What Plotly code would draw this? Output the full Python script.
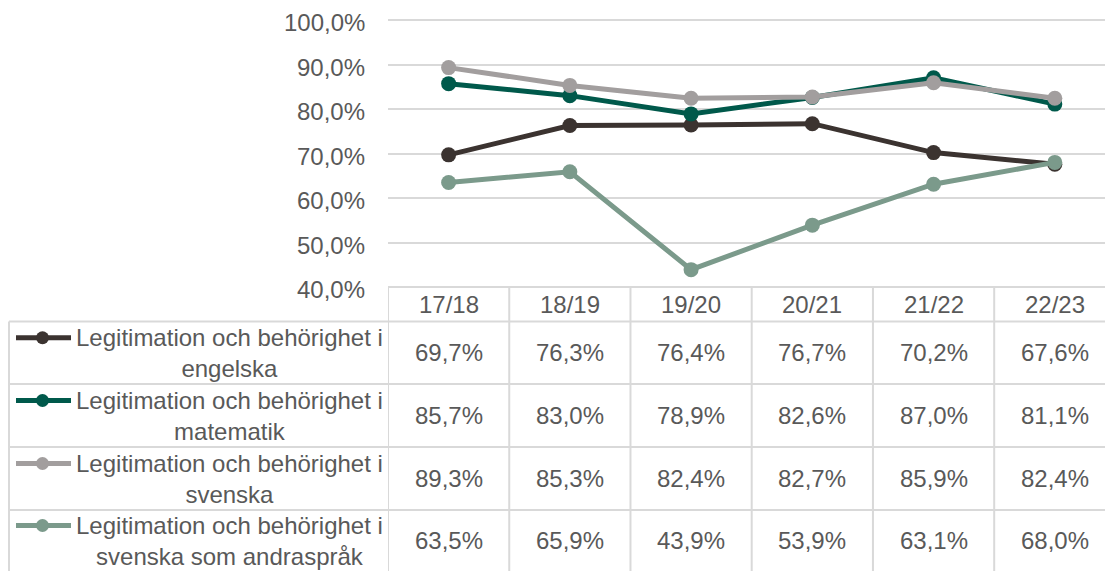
import plotly.graph_objects as go

years = ["17/18", "18/19", "19/20", "20/21", "21/22", "22/23"]
series_line1 = ["Legitimation och behörighet i"] * 4
series_line2 = ["engelska", "matematik", "svenska", "svenska som andraspråk"]
engelska = [69.7, 76.3, 76.4, 76.7, 70.2, 67.6]
matematik = [85.7, 83.0, 78.9, 82.6, 87.0, 81.1]
svenska = [89.3, 85.3, 82.4, 82.7, 85.9, 82.4]
andrasprak = [63.5, 65.9, 43.9, 53.9, 63.1, 68.0]
y_ticks = [40, 50, 60, 70, 80, 90, 100]

values = [engelska, matematik, svenska, andrasprak]
colors = ["#3B3330", "#00594B", "#A29E9E", "#7B9A8B"]

W, H = 1113, 571
OFF = 8  # page body margin shifts the figure by this much
FONT = "Liberation Sans, Arial, sans-serif"
FS = 24
TXT = "#595959"
GRID = "#D9D9D9"


def pct(v):
    return f"{v:.1f}".replace(".", ",") + "%"


def py(pix):
    return 1 - (pix - OFF) / H


def px(pix):
    return (pix - OFF) / W


fig = go.Figure()
idx = list(range(len(years)))
for name2, vals, col in zip(series_line2, values, colors):
    fig.add_trace(go.Scatter(
        x=idx, y=vals, mode="lines+markers",
        name=name2,
        line=dict(color=col, width=5),
        marker=dict(color=col, size=15),
        showlegend=False,
    ))

# table geometry (reference pixels)
y_max = 100.4
plot_bot = 287
plot_top = 20 - (y_max - 100) * (267 / 60)
head_bot = 321.5
row_edges = [321.5, 384, 447, 510, 575]
left_x, label_right, right_x = 9, 388, 1113

shapes = []
line_style = dict(color=GRID, width=2)
shapes.append(dict(type="line", xref="paper", yref="paper", x0=px(label_right), x1=1,
                   y0=py(plot_bot), y1=py(plot_bot), line=line_style))
for e in row_edges[:-1]:
    shapes.append(dict(type="line", xref="paper", yref="paper", x0=px(left_x), x1=1,
                       y0=py(e), y1=py(e), line=line_style))
for i in range(len(years) + 1):
    shapes.append(dict(type="line", xref="x", yref="paper", x0=i - 0.5, x1=i - 0.5,
                       y0=py(plot_bot), y1=0, line=line_style))
shapes.append(dict(type="line", xref="paper", yref="paper", x0=px(left_x), x1=px(left_x),
                   y0=py(head_bot), y1=0, line=line_style))

font = dict(size=FS, color=TXT, family=FONT)
annotations = []
# y tick labels drawn on the y scale
for t in y_ticks:
    annotations.append(dict(x=px(367), xref="paper", y=t, yref="y", text=pct(t), yshift=-3,
                            showarrow=False, font=font, xanchor="right", yanchor="middle"))
for i, yr in enumerate(years):
    annotations.append(dict(x=i, xref="x", y=py((plot_bot + head_bot) / 2), yref="paper",
                            text=yr, showarrow=False, font=font,
                            xanchor="center", yanchor="middle"))

for r, (l1, l2, vals, col) in enumerate(zip(series_line1, series_line2, values, colors)):
    top = row_edges[r]
    bot = min(row_edges[r + 1], 571)
    mid = (top + bot) / 2
    y1 = mid - 15
    annotations.append(dict(x=px(229), xref="paper", y=py(mid), yref="paper",
                            text=l1 + "<br>" + l2, align="center",
                            showarrow=False, font=font, xanchor="center", yanchor="middle"))
    # legend key: line + marker
    shapes.append(dict(type="line", xref="paper", yref="paper", x0=px(16), x1=px(71),
                       y0=py(y1), y1=py(y1), line=dict(color=col, width=5)))
    shapes.append(dict(type="circle", xref="paper", yref="paper", x0=px(36), x1=px(49),
                       y0=py(y1 + 6.5), y1=py(y1 - 6.5), fillcolor=col, line=dict(color=col, width=0)))
    for i, v in enumerate(vals):
        annotations.append(dict(x=i, xref="x", y=py(mid), yref="paper",
                                text=pct(v), showarrow=False, font=font,
                                xanchor="center", yanchor="middle"))

fig.update_layout(
    width=W, height=H,
    margin=dict(l=0, r=0, t=0, b=0, autoexpand=False),
    paper_bgcolor="white", plot_bgcolor="white",
    font=dict(family=FONT, size=FS, color=TXT),
    xaxis=dict(domain=[px(label_right), px(right_x)], range=[-0.5, 5.48], showgrid=False,
               zeroline=False, showticklabels=False, showline=False, automargin=False),
    yaxis=dict(domain=[py(plot_bot), py(plot_top)], range=[40, y_max], tickvals=y_ticks,
               showticklabels=False, showgrid=True, gridcolor=GRID, gridwidth=2,
               zeroline=False, showline=False, automargin=False),
    shapes=shapes,
    annotations=annotations,
)

fig.write_html("out.html")
